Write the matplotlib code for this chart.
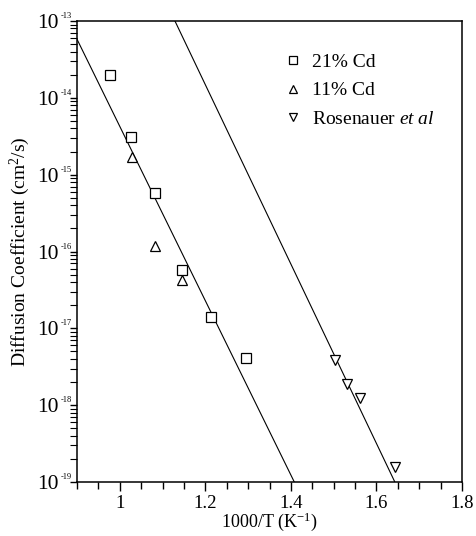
import numpy as np
import matplotlib
matplotlib.use('Agg')
import matplotlib.pyplot as plt
from matplotlib.ticker import MultipleLocator, FixedLocator, FuncFormatter, NullFormatter

# 21% Cd
cd21_x = [0.977, 1.027, 1.082, 1.145, 1.214, 1.294]
cd21_D = [2.0e-14, 3.05e-15, 5.7e-16, 5.7e-17, 1.4e-17, 4.1e-18]
# 11% Cd
cd11_x = [1.028, 1.082, 1.145]
cd11_D = [1.7e-15, 1.17e-16, 4.3e-17]
# Rosenauer et al
ros_x = [1.502, 1.532, 1.562, 1.643]
ros_D = [3.9e-18, 1.86e-18, 1.24e-18, 1.58e-19]
# fitted Arrhenius lines (end points)
fit1_x = [0.9, 1.408]
fit1_D = [5.8e-14, 1e-19]
fit2_x = [1.129, 1.643]
fit2_D = [1e-13, 1e-19]

# decades shown on the y axis
decades = [-19, -18, -17, -16, -15, -14, -13]

plt.rcParams['font.family'] = ['Liberation Serif', 'DejaVu Serif']
plt.rcParams['mathtext.fontset'] = 'custom'
plt.rcParams['mathtext.rm'] = 'Liberation Serif'
plt.rcParams['mathtext.it'] = 'Liberation Serif:italic'

fig = plt.figure(figsize=(4.77, 5.36), dpi=100)
ax = fig.add_axes([0.1614, 0.1007, 0.8072, 0.8601])

ax.plot(fit1_x, fit1_D, color='black', lw=0.8)
ax.plot(fit2_x, fit2_D, color='black', lw=0.8)
ax.plot(cd21_x, cd21_D, 's', ms=7.2, mfc='white', mec='black', mew=0.9, label='21% Cd')
ax.plot(cd11_x, cd11_D, '^', ms=7.5, mfc='white', mec='black', mew=0.9, label='11% Cd')
ax.plot(ros_x, ros_D, 'v', ms=7.5, mfc='white', mec='black', mew=0.9,
        label=r'Rosenauer $\it{et\ al}$')

ax.set_yscale('log')
ax.set_xlim(0.9, 1.8)
ax.set_ylim(1e-19, 1e-13)

ax.xaxis.set_major_locator(MultipleLocator(0.2))
ax.xaxis.set_minor_locator(MultipleLocator(0.05))
ax.xaxis.set_major_formatter(FuncFormatter(lambda v, p: '%g' % round(v, 2)))

major_y = [10.0 ** e for e in decades]
minor_y = [m * 10.0 ** e for e in decades[:-1] for m in range(2, 10)]
ax.yaxis.set_major_locator(FixedLocator(major_y))
ax.yaxis.set_minor_locator(FixedLocator(minor_y))
ax.yaxis.set_minor_formatter(NullFormatter())
ax.yaxis.set_major_formatter(FuncFormatter(lambda v, p: '10'))

ax.tick_params(axis='x', which='major', direction='out', length=6.5, width=1, labelsize=13.5, pad=3)
ax.tick_params(axis='x', which='minor', direction='out', length=5, width=1)
ax.tick_params(axis='y', which='major', direction='out', length=5, width=1, labelsize=15.5, pad=8)
ax.tick_params(axis='y', which='minor', direction='out', length=5, width=0.8)

# small exponents on the y tick labels
for e in decades:
    ax.annotate(str(e), xy=(0, 10.0 ** e), xycoords=('axes fraction', 'data'),
                xytext=(-3.5, 3.5), textcoords='offset points', fontsize=6,
                ha='right', va='center')

for s in ax.spines.values():
    s.set_linewidth(1.1)

ax.set_xlabel(r'1000/T (K$^{\mathregular{-1}}$)', fontsize=13, labelpad=-1)
ax.set_ylabel(r'Diffusion Coefficient (cm$^{\mathregular{2}}$/s)', fontsize=14, labelpad=4)

ax.legend(loc='upper left', bbox_to_anchor=(0.524, 0.947), frameon=False, fontsize=14,
          markerscale=0.75, handlelength=0.7, handletextpad=0.6, labelspacing=0.56,
          borderaxespad=0)

fig.savefig('out.png', dpi=100)
